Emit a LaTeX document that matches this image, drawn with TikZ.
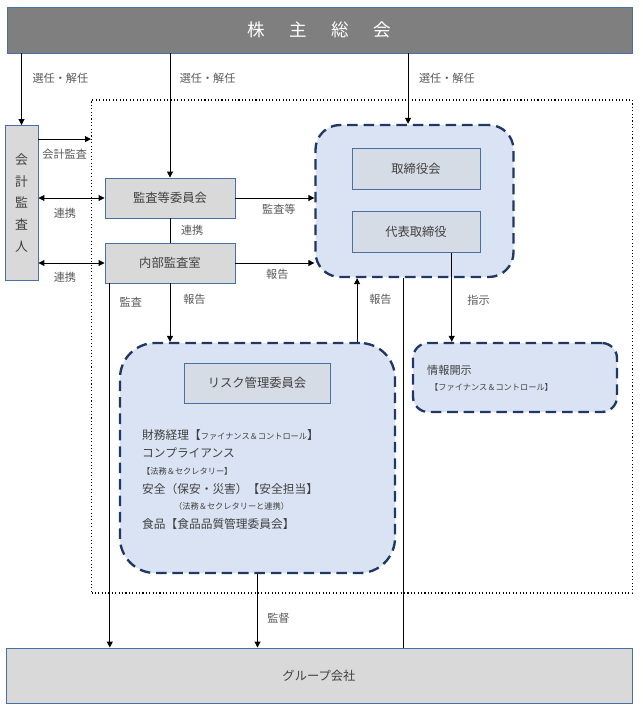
\documentclass[tikz,border=0pt]{standalone}
\usepackage{fontspec}
\setmainfont{Noto Sans CJK JP}
\usetikzlibrary{arrows.meta}
\usetikzlibrary{positioning}

\definecolor{headgray}{HTML}{7F7F7F}
\definecolor{boxgray}{HTML}{D9D9D9}
\definecolor{innergray}{HTML}{D6DCE5}
\definecolor{boxline}{HTML}{4A6FA5}
\definecolor{navy}{HTML}{1F3864}
\definecolor{paleblue}{HTML}{DAE3F3}
\definecolor{labelgray}{HTML}{595959}
\definecolor{textgray}{HTML}{404040}

\newcommand{\smtxt}[1]{{\fontsize{7}{8}\selectfont #1}}

\begin{document}
\begin{tikzpicture}[x=0.03cm, y=-0.03cm]
\tikzset{
    wh/.style 2 args={
              minimum width=#1*0.03cm,
              minimum height=#2*0.03cm
    },
    box/.style={
              draw=boxline,
                   fill=boxgray,
                   line width=0.8pt,
                   text=textgray,
                   inner sep=0pt,
                   font=\fontsize{10.5}{12}\selectfont
    },
    innerbox/.style={box, fill=innergray},
    grp/.style={
              draw=navy,
                   fill=paleblue,
                   line width=2pt,
                   dash pattern=on 9pt off 5pt
    },
    listtxt/.style={text=textgray, inner sep=0pt, anchor=west,
                   font=\fontsize{10}{12}\selectfont},
    lbl/.style={text=labelgray, inner sep=1pt, font=\fontsize{9.5}{11}\selectfont},
    arr/.style={-{Triangle[length=5pt,width=5pt]}, line width=0.8pt},
    darr/.style={{Triangle[length=5pt,width=5pt]}-{Triangle[length=5pt,width=5pt]}, line width=0.8pt}
}
    \useasboundingbox (0,0) rectangle (642,709);

    \node (frame)[draw, dotted, line width=0.9pt, wh={541}{493}] at (362,346.5) {};

    \node (soukai)[box, fill=headgray, text=white, wh={625}{46},
        font=\fontsize{15}{18}\selectfont] at (319.5,30)
        {株\hspace{1.4em}主\hspace{1.4em}総\hspace{1.4em}会};
    \node (kaikei)[box, wh={33}{155}, align=center,
        font=\fontsize{11}{18.5}\selectfont] at (21.5,203) {会\\計\\監\\査\\人};
    \node (iinkai)[box, wh={130}{40}] at (170,198) {監査等委員会};
    \node (naibu)[box, wh={130}{40}] at (170,263) {内部監査室};

    \node (board)[grp, rounded corners=21pt, wh={198}{152}] at (414.5,201) {};
    \node (torishimari)[innerbox, wh={128}{41}] at (416,168.5) {取締役会};
    \node (daihyo)[innerbox, wh={128}{41}] at (416,232) {代表取締役};

    \node (risk)[grp, rounded corners=30pt, wh={275}{230}] at (257.5,458) {};
    \node (riskiin)[innerbox, wh={146}{40}] at (257,383) {リスク管理委員会};
    \node (r1)[listtxt] at (142,435) {財務経理【\smtxt{ファイナンス＆コントロール}】};
    \node (r2)[listtxt] at (142,453) {コンプライアンス};
    \node (r3)[listtxt] at (142,471) {\smtxt{【法務＆セクレタリー】}};
    \node (r4)[listtxt] at (142,489) {安全（保安・災害）【安全担当】};
    \node (r5)[listtxt] at (174,506) {\smtxt{（法務＆セクレタリーと連携）}};
    \node (r6)[listtxt] at (142,524) {食品【食品品質管理委員会】};

    \node (info)[grp, rounded corners=13pt, wh={204}{69}] at (515,377.5) {};
    \node (i1)[listtxt, font=\fontsize{9.5}{11}\selectfont] at (427,370) {情報開示};
    \node (i2)[listtxt] at (430,387) {\smtxt{【ファイナンス＆コントロール】}};

    \node (group)[box, wh={626}{55}] at (319,675.5) {グループ会社};

    \coordinate (bin) at ([xshift=-5.5pt]board.north);
    \coordinate (bup) at ([xshift=85pt]risk.north);
    \coordinate (bdn) at ([xshift=-9pt]board.south);
    \coordinate (dout) at ([xshift=30.5pt]daihyo.south);
    \coordinate (nout) at ([xshift=4.5pt]naibu.south west);
    \coordinate (kout) at ([yshift=-12pt]kaikei.north east);

    \draw[arr] (soukai.south -| kaikei) -- node[lbl, pos=.34, right=8pt] {選任・解任} (kaikei.north);
    \draw[arr] (soukai.south -| iinkai) -- node[lbl, pos=.2, right=7pt] {選任・解任} (iinkai.north);
    \draw[arr] (soukai.south -| bin) -- node[lbl, pos=.35, right=8pt] {選任・解任} (bin);

    \draw[arr] (kout) -- node[lbl, midway, below=7pt] {会計監査} (kout -| frame.west);
    \draw[darr] (kaikei.east |- iinkai) -- node[lbl, pos=.4, below=7pt] {連携} (iinkai.west);
    \draw[darr] (kaikei.east |- naibu) -- node[lbl, pos=.4, below=6pt] {連携} (naibu.west);
    \draw[line width=0.8pt] (iinkai) -- node[lbl, midway, right=8pt] {連携} (naibu);

    \draw[arr] (iinkai.east) -- node[lbl, pos=.55, below=4pt] {監査等} (iinkai.east -| board.west);
    \draw[arr] (naibu.east) -- node[lbl, pos=.53, below=4pt] {報告} (naibu.east -| board.west);

    \draw[arr] (nout) -- node[lbl, pos=.05, right=7pt] {監査} (nout |- group.north);
    \draw[arr] (naibu.south) -- node[lbl, pos=.28, right=10pt] {報告} (naibu.south |- risk.north);
    \draw[arr] (bup) -- node[lbl, pos=.66, right=9pt] {報告} (bup |- board.south);
    \draw[line width=0.8pt] (bdn) -- (bdn |- group.north);
    \draw[arr] (dout) -- node[lbl, pos=.53, right=12pt] {指示} (dout |- info.north);
    \draw[arr] (risk.south) -- node[lbl, pos=.6, right=7pt] {監督} (risk.south |- group.north);

\end{tikzpicture}
\end{document}
